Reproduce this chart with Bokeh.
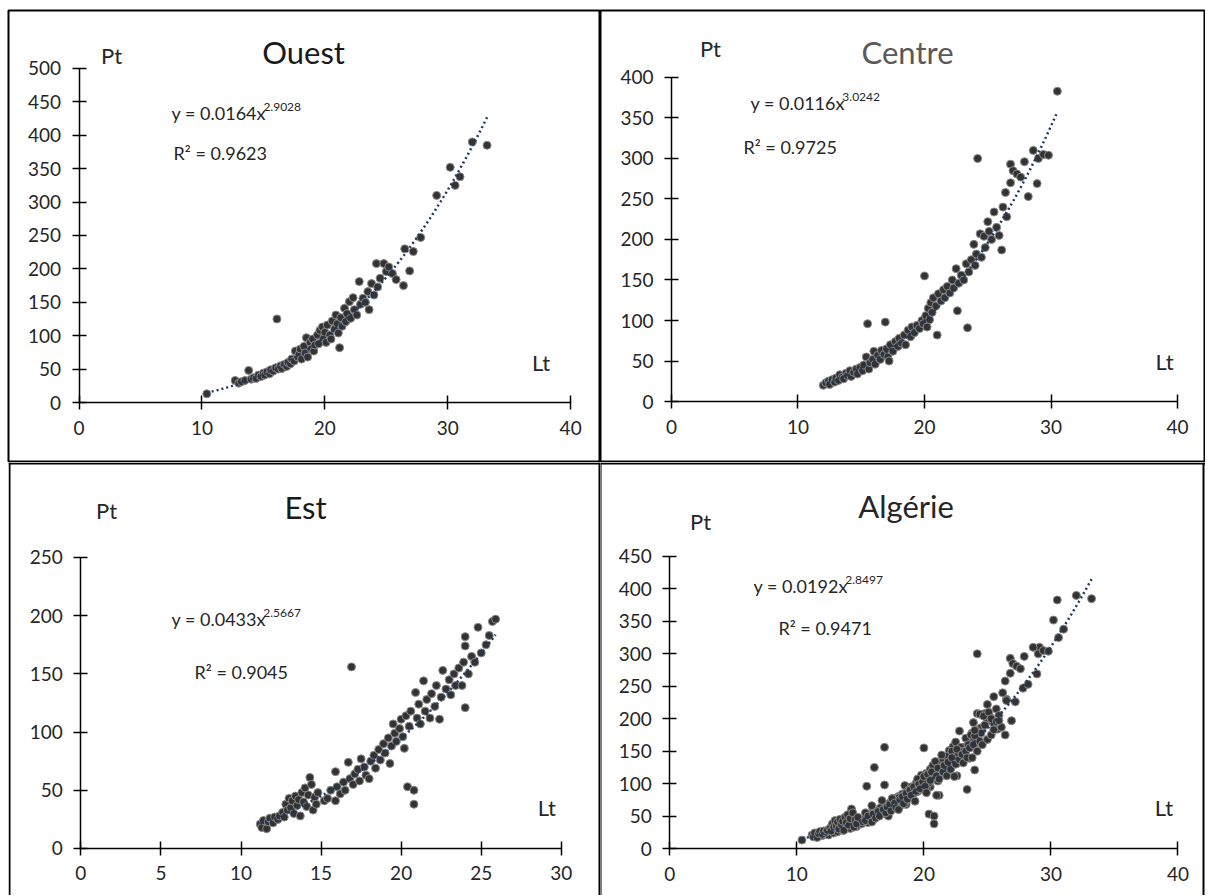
import numpy as np
from bokeh.plotting import figure
from bokeh.models import Range1d, LinearAxis, FixedTicker, Label, Span
from bokeh.layouts import column, row
from bokeh.embed import file_html
from bokeh.resources import INLINE

# ---------------- data ----------------
ouest_lt = [10.4, 12.7, 13.0, 13.2, 13.5, 13.8, 14.0, 14.2, 14.4, 14.6, 14.8, 15.0, 15.1, 15.3, 15.5,
            15.6, 15.8, 16.0, 16.1, 16.2, 16.4, 16.5, 16.7, 16.9, 17.0, 17.2, 17.3, 17.5, 17.6, 17.8,
            17.9, 18.0, 18.1, 18.3, 18.4, 18.5, 18.6, 18.8, 18.9, 19.0, 19.1, 19.2, 19.4, 19.5, 19.6,
            19.8, 19.9, 20.0, 20.1, 20.2, 20.4, 20.5, 20.6, 20.8, 20.9, 21.0, 21.1, 21.2, 21.3, 21.4,
            21.6, 21.7, 21.8, 22.0, 22.1, 22.3, 22.4, 22.6, 22.8, 22.9, 23.1, 23.3, 23.5, 23.6, 23.8,
            24.0, 24.2, 24.3, 24.5, 24.8, 25.0, 25.2, 25.5, 25.8, 26.4, 26.5, 26.9, 27.2, 27.8, 29.1,
            30.2, 30.6, 31.0, 32.0, 33.2]
ouest_pt = [13, 33, 29, 31, 33, 48, 35, 37, 36, 41, 39, 44, 41, 46, 43,
            49, 47, 52, 125, 50, 55, 51, 57, 54, 60, 58, 65, 62, 77, 68,
            72, 80, 65, 84, 74, 97, 68, 90, 80, 95, 77, 86, 101, 88, 108,
            113, 96, 105, 90, 116, 101, 95, 122, 110, 131, 118, 104, 82, 127, 114,
            141, 121, 133, 151, 126, 157, 139, 131, 181, 147, 156, 150, 166, 139, 178,
            161, 208, 173, 186, 208, 196, 203, 193, 184, 175, 230, 197, 226, 247, 310,
            352, 325, 338, 390, 385]

centre_lt = [12.0, 12.2, 12.4, 12.5, 12.7, 12.9, 13.0, 13.2, 13.3, 13.5, 13.6, 13.8, 13.9, 14.1, 14.2,
             14.4, 14.6, 14.7, 14.9, 15.1, 15.2, 15.4, 15.5, 15.6, 15.7, 15.9, 16.0, 16.1, 16.3, 16.5,
             16.6, 16.8, 16.9, 17.0, 17.1, 17.2, 17.3, 17.5, 17.7, 17.9, 18.0, 18.2, 18.4, 18.5, 18.7,
             18.9, 19.0, 19.2, 19.4, 19.6, 19.8, 19.9, 20.0, 20.1, 20.2, 20.3, 20.4, 20.5, 20.6, 20.7,
             20.9, 21.0, 21.1, 21.3, 21.5, 21.6, 21.8, 22.0, 22.2, 22.3, 22.5, 22.6, 22.7, 22.9, 23.1,
             23.3, 23.4, 23.5, 23.7, 23.9, 24.0, 24.1, 24.2, 24.4, 24.5, 24.7, 24.8, 25.0, 25.1, 25.3,
             25.5, 25.7, 25.9, 26.1, 26.2, 26.4, 26.5, 26.8, 26.8, 27.0, 27.3, 27.6, 27.9, 28.2, 28.6,
             28.9, 29.0, 29.4, 29.8, 30.5]
centre_pt = [20, 23, 25, 21, 27, 24, 29, 26, 33, 30, 28, 35, 32, 38, 31,
             36, 40, 34, 42, 38, 45, 55, 96, 40, 48, 52, 62, 46, 57, 52,
             63, 58, 98, 65, 55, 50, 70, 62, 74, 68, 78, 72, 82, 70, 88,
             80, 92, 85, 94, 90, 100, 96, 155, 106, 92, 115, 101, 122, 110, 128,
             118, 82, 133, 124, 138, 128, 142, 134, 150, 140, 164, 112, 146, 156, 150,
             170, 91, 160, 175, 194, 168, 182, 300, 207, 178, 204, 190, 222, 210, 200,
             234, 215, 205, 187, 240, 258, 228, 270, 293, 285, 281, 277, 296, 253, 310,
             269, 300, 305, 304, 383]

est_lt = [11.2, 11.3, 11.4, 11.6, 11.7, 11.8, 12.0, 12.1, 12.3, 12.4, 12.6, 12.7, 12.8, 12.9, 13.0,
          13.1, 13.2, 13.3, 13.4, 13.5, 13.6, 13.7, 13.8, 13.9, 14.0, 14.1, 14.2, 14.3, 14.4, 14.5,
          14.6, 14.7, 14.8, 15.2, 15.4, 15.6, 15.9, 15.9, 16.0, 16.2, 16.4, 16.5, 16.7, 16.8, 16.9,
          17.0, 17.1, 17.3, 17.4, 17.5, 17.7, 17.8, 18.0, 18.1, 18.3, 18.4, 18.6, 18.7, 18.9, 19.0,
          19.2, 19.3, 19.4, 19.5, 19.6, 19.7, 19.9, 20.0, 20.1, 20.2, 20.3, 20.4, 20.5, 20.6, 20.8,
          20.8, 20.9, 21.0, 21.1, 21.2, 21.4, 21.5, 21.6, 21.8, 21.9, 22.1, 22.2, 22.4, 22.5, 22.6,
          22.8, 23.0, 23.1, 23.3, 23.4, 23.6, 23.8, 23.9, 24.0, 24.0, 24.0, 24.2, 24.4, 24.6, 24.8,
          25.0, 25.3, 25.5, 25.7, 25.9]
est_pt = [21, 18, 24, 17, 23, 26, 22, 27, 25, 28, 31, 27, 38, 33, 43,
          35, 41, 30, 45, 37, 42, 28, 48, 40, 52, 36, 46, 61, 55, 33,
          44, 38, 48, 41, 43, 50, 41, 66, 53, 47, 57, 50, 74, 60, 156,
          55, 64, 68, 58, 77, 70, 63, 60, 75, 80, 69, 85, 76, 90, 82,
          95, 73, 88, 107, 99, 92, 103, 111, 96, 86, 114, 53, 105, 118, 50,
          38, 134, 112, 124, 107, 144, 118, 128, 112, 133, 122, 140, 111, 130, 153,
          137, 145, 132, 150, 140, 155, 140, 160, 121, 174, 182, 150, 165, 160, 190,
          168, 175, 183, 195, 197]

# Algérie = all three regions pooled
alg_lt = ouest_lt + centre_lt + est_lt
alg_pt = ouest_pt + centre_pt + est_pt

titles = ["Ouest", "Centre", "Est", "Algérie"]
coef_a = [0.0164, 0.0116, 0.0433, 0.0192]
coef_b = [2.9028, 3.0242, 2.5667, 2.8497]
r2_txt = ["0.9623", "0.9725", "0.9045", "0.9471"]
x_ticks = [[0, 10, 20, 30, 40], [0, 10, 20, 30, 40], [0, 5, 10, 15, 20, 25, 30], [0, 10, 20, 30, 40]]
y_ticks = [list(range(0, 501, 50)), list(range(0, 401, 50)), list(range(0, 251, 50)), list(range(0, 451, 50))]

FONT = "Lato"
TXT = "#262626"


def panel(i, xs, ys, width, height, left_pad, top_pad, xr, yr, pos, title_color, edges):
    p = figure(width=width, height=height, x_range=Range1d(*xr), y_range=Range1d(*yr),
               x_axis_type=None, y_axis_type=None, output_backend="svg", toolbar_location=None,
               min_border=0)
    p.min_border_top = top_pad
    p.min_border_left = left_pad
    p.background_fill_color = "white"
    p.border_fill_color = "white"
    if edges is None:
        p.outline_line_color = "black"
        p.outline_line_width = 2
    else:
        # panel cut at the bottom of the picture: only top, left and right edges
        p.outline_line_color = None
        fx = (xr[1] - xr[0]) / (width - left_pad)
        fy = (yr[1] - yr[0]) / (height - top_pad)
        left_px, right_px, top_px = edges
        for loc, dim in ((xr[0] + left_px * fx, "height"), (xr[1] - right_px * fx, "height"),
                         (yr[1] - top_px * fy, "width")):
            p.add_layout(Span(location=loc, dimension=dim, line_color="black", line_width=2))

    xt, yt = x_ticks[i], y_ticks[i]
    xa = LinearAxis(fixed_location=0, bounds=(xt[0], xt[-1]), ticker=FixedTicker(ticks=xt))
    ya = LinearAxis(fixed_location=0, bounds=(yt[0], yt[-1]), ticker=FixedTicker(ticks=yt))
    for ax in (xa, ya):
        ax.axis_line_color = "black"
        ax.axis_line_width = 1.5
        ax.major_tick_line_color = "black"
        ax.major_tick_line_width = 1.5
        ax.major_tick_in = 7
        ax.major_tick_out = 7
        ax.minor_tick_in = 0
        ax.minor_tick_out = 0
        ax.major_label_text_font = FONT
        ax.major_label_text_font_size = "19px"
        ax.major_label_text_color = TXT
        ax.major_label_standoff = 11
    p.add_layout(xa, "below")
    p.add_layout(ya, "left")

    p.scatter(xs, ys, size=8, fill_color="#333333", line_color="#8a8a8a", line_width=1)

    xx = np.linspace(min(xs), max(xs), 200)
    yy = coef_a[i] * xx ** coef_b[i]
    p.line(xx, yy, line_color="#1f3864", line_width=2.5, line_dash="2 3")

    def lab(x, y, text, size, align="left", color=TXT, xo=0, yo=0):
        p.add_layout(Label(x=x, y=y, text=text, text_font=FONT, text_font_size=size,
                           text_color=color, text_align=align, text_baseline="middle",
                           x_offset=xo, y_offset=yo))

    lab(pos["pt"][0], pos["pt"][1], "Pt", "22px", "center")
    lab(pos["title"][0], pos["title"][1], titles[i], "31px", "center", title_color)
    eq_main = "y = %sx" % coef_a[i]
    lab(pos["eq"][0], pos["eq"][1], eq_main, "18px")
    lab(pos["eq"][0], pos["eq"][1], "%s" % coef_b[i], "12px", xo=5.1 * 18, yo=6)
    lab(pos["r2"][0], pos["r2"][1], "R² = " + r2_txt[i], "18px")
    lab(pos["lt"][0], pos["lt"][1], "Lt", "22px", "center")
    return p


p1 = panel(0, ouest_lt, ouest_pt, 600, 462, 8, 10, (-5.74, 42.43), (-89.8, 586.8),
           {"pt": (2.64, 519), "title": (18.27, 524), "eq": (7.53, 434), "r2": (7.69, 373), "lt": (37.6, 60)},
           "#1a1a1a", None)
p2 = panel(1, centre_lt, centre_pt, 605, 462, 0, 10, (-5.61, 42.21), (-75.3, 482.7),
           {"pt": (3.08, 436), "title": (18.66, 431), "eq": (6.25, 368), "r2": (5.69, 314), "lt": (38.97, 50)},
           "#595959", None)
p3 = panel(2, est_lt, est_pt, 600, 433, 8, 0, (-4.52, 32.45), (-40.4, 331.6),
           {"pt": (1.6, 290), "title": (14.03, 293), "eq": (5.66, 197), "r2": (7.1, 152), "lt": (29.1, 35)},
           "#1a1a1a", (1, 1, 1))
p4 = panel(3, alg_lt, alg_pt, 605, 433, 0, 0, (-5.46, 42.17), (-72.4, 594.8),
           {"pt": (2.41, 504), "title": (18.6, 528), "eq": (6.58, 405), "r2": (8.55, 340), "lt": (38.9, 63)},
           "#262626", (0, 2, 1))

layout = column(row(p1, p2, spacing=0), row(p3, p4, spacing=0), spacing=0)
open("out.html", "w").write(file_html(layout, INLINE))
